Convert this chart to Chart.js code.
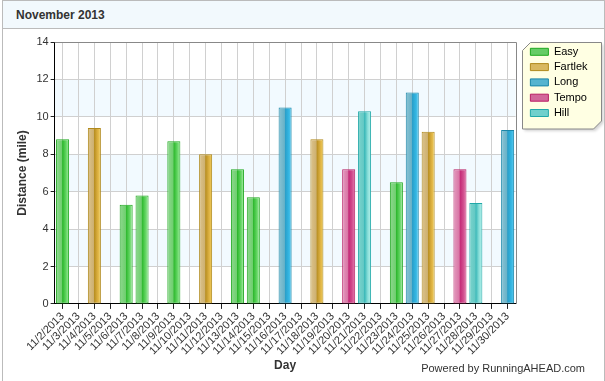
<!DOCTYPE html>
<html>
<head>
<meta charset="utf-8">
<script src="https://cdn.jsdelivr.net/npm/chart.js@4/dist/chart.umd.min.js"></script>
<style>
  html, body { margin: 0; padding: 0; background: #fff; }
  body { width: 605px; height: 381px; overflow: hidden; position: relative; font-family: "Liberation Sans", Arial, sans-serif; }
  #frame { position: absolute; left: 2px; top: 0; width: 601px; height: 380px; border: 1px solid #bbb; border-bottom: none; }
  #header { position: absolute; left: 0; top: 0; width: 601px; height: 27px; background: #f2f9fd; border-bottom: 1px solid #bbb; }
  #header span { position: absolute; left: 13px; top: 7px; font-weight: bold; font-size: 12px; color: #333; }
  #wrap { position: absolute; left: 0; top: 28px; width: 601px; height: 352px; }
  #powered { position: absolute; right: 20px; top: 362px; font-size: 11px; color: #333; }
</style>
</head>
<body>
<div id="frame">
  <div id="header"><span>November 2013</span></div>
  <div id="wrap"><canvas id="c"></canvas></div>
</div>
<div id="powered">Powered by RunningAHEAD.com</div>
<script>
const days = ['11/2/2013','11/3/2013','11/4/2013','11/5/2013','11/6/2013','11/7/2013','11/8/2013','11/9/2013','11/10/2013','11/11/2013','11/12/2013','11/13/2013','11/14/2013','11/15/2013','11/16/2013','11/17/2013','11/18/2013','11/19/2013','11/20/2013','11/21/2013','11/22/2013','11/23/2013','11/24/2013','11/25/2013','11/26/2013','11/27/2013','11/28/2013','11/29/2013','11/30/2013'];
const easy    = [8.8,null,null,null,5.3,5.8,null,8.7,null,null,null,7.2,5.7,null,null,null,null,null,null,null,null,6.5,null,null,null,null,null,null,null];
const fartlek = [null,null,9.4,null,null,null,null,null,null,8.0,null,null,null,null,null,null,8.8,null,null,null,null,null,null,9.2,null,null,null,null,null];
const long    = [null,null,null,null,null,null,null,null,null,null,null,null,null,null,10.5,null,null,null,null,null,null,null,11.3,null,null,null,null,null,9.3];
const tempo   = [null,null,null,null,null,null,null,null,null,null,null,null,null,null,null,null,null,null,7.2,null,null,null,null,null,null,7.2,null,null,null];
const hill    = [null,null,null,null,null,null,null,null,null,null,null,null,null,null,null,null,null,null,null,10.3,null,null,null,null,null,null,5.4,null,null];
const yTicks = [0,2,4,6,8,10,12,14];

const styles = {
  Easy:    { border: '#1fa81f', solid: '#66cc66', stops: ['#8fd88f','#6fcf6f','#2eb82e','#5fd45f','#a8eca8'] },
  Fartlek: { border: '#b0891c', solid: '#d8b860', stops: ['#dcc48e','#cdb070','#b88f22','#dcb040','#f2d060'] },
  Long:    { border: '#1a86a8', solid: '#55b4d0', stops: ['#8cc4d4','#68b2c8','#2a9ec8','#32b4e0','#5ccaf0'] },
  Tempo:   { border: '#b81e64', solid: '#d2679a', stops: ['#e49cc0','#d874a4','#c42876','#d04c8c','#e882b4'] },
  Hill:    { border: '#20a8a8', solid: '#70d0cc', stops: ['#7cd4cc','#62c8c4','#3ab8b8','#8ce0da','#b8f2ec'] }
};
const BARPCT = 0.82;

function gradFor(name) {
  const st = styles[name];
  return (ctx) => {
    if (ctx.type !== 'data') return st.solid;
    const chart = ctx.chart;
    const xs = chart.scales && chart.scales.x;
    if (!xs || !chart.chartArea) return st.solid;
    const cx = xs.getPixelForValue(ctx.dataIndex);
    const w = xs.width / days.length * BARPCT;
    const g = chart.ctx.createLinearGradient(cx - w/2, 0, cx + w/2, 0);
    g.addColorStop(0, st.stops[0]);
    g.addColorStop(0.45, st.stops[1]);
    g.addColorStop(0.5, st.stops[2]);
    g.addColorStop(0.75, st.stops[3]);
    g.addColorStop(1, st.stops[4]);
    return g;
  };
}
function ds(name, data) {
  return { label: name, data: data, backgroundColor: gradFor(name), borderColor: styles[name].border,
           borderWidth: 1, borderSkipped: false, barPercentage: BARPCT, categoryPercentage: 1.0 };
}

const bgPlugin = {
  id: 'bg',
  afterLayout(chart) {
    const lg = chart.legend;
    if (lg) {
      const shift = chart.chartArea.right + 10.5 - lg.left;
      lg.left += shift; lg.right += shift;
    }
  },
  beforeDraw(chart) {
    const { ctx, chartArea: a, scales: { y } } = chart;
    ctx.save();
    ctx.fillStyle = '#f2faff';
    [[2,4],[6,8],[10,12]].forEach(([lo, hi]) => {
      const t = y.getPixelForValue(hi), b = y.getPixelForValue(lo);
      ctx.fillRect(a.left, t, a.right - a.left, b - t);
    });
    const lg = chart.legend;
    if (lg) {
      const n = chart.data.datasets.length;
      const L = Math.round(lg.left) - 3.5, T = Math.round(a.top) + 0.5;
      const R = chart.width - 2.5, B = T + n * 15.3 + 10;
      const c = 8;
      ctx.beginPath();
      ctx.moveTo(L + c, T); ctx.lineTo(R, T); ctx.lineTo(R, B - c); ctx.lineTo(R - c, B);
      ctx.lineTo(L, B); ctx.lineTo(L, T + c); ctx.closePath();
      ctx.shadowColor = 'rgba(0,0,0,0.18)'; ctx.shadowBlur = 3; ctx.shadowOffsetX = 2; ctx.shadowOffsetY = 2;
      ctx.fillStyle = '#ffffe3';
      ctx.fill();
      ctx.shadowColor = 'transparent';
      ctx.strokeStyle = '#888';
      ctx.lineWidth = 1;
      ctx.stroke();
    }
    ctx.restore();
  },
  afterDraw(chart) {
    const { ctx, chartArea: a } = chart;
    ctx.save();
    ctx.strokeStyle = '#888';
    ctx.lineWidth = 1;
    ctx.beginPath();
    ctx.moveTo(a.left, Math.round(a.top) + 0.5);
    ctx.lineTo(Math.round(a.right) + 0.5, Math.round(a.top) + 0.5);
    ctx.lineTo(Math.round(a.right) + 0.5, a.bottom);
    ctx.stroke();
    ctx.restore();
  }
};

Chart.defaults.font.family = '"Liberation Sans", Arial, sans-serif';
Chart.defaults.color = '#333';

new Chart(document.getElementById('c'), {
  type: 'bar',
  data: {
    labels: days,
    datasets: [ds('Easy', easy), ds('Fartlek', fartlek), ds('Long', long), ds('Tempo', tempo), ds('Hill', hill)]
  },
  options: {
    responsive: true,
    maintainAspectRatio: false,
    animation: false,
    layout: { padding: { top: 13, left: 12, right: 17, bottom: 8 } },
    plugins: {
      tooltip: { enabled: false },
      legend: {
        position: 'right',
        align: 'start',
        labels: {
          boxWidth: 18, boxHeight: 7, padding: 4.3,
          font: { size: 11 }, color: '#333',
          generateLabels(chart) {
            return chart.data.datasets.map((d, i) => ({
              text: d.label, fillStyle: styles[d.label].solid, strokeStyle: styles[d.label].border,
              lineWidth: 1, hidden: false, datasetIndex: i
            }));
          }
        }
      }
    },
    scales: {
      x: {
        stacked: true,
        offset: true,
        grid: { offset: false, color: '#d0d0d0', tickColor: '#222', tickLength: 5, drawOnChartArea: true },
        border: { color: '#000', width: 1 },
        ticks: { autoSkip: false, minRotation: 45, maxRotation: 45, font: { size: 11 }, color: '#333', padding: 1 },
        title: { display: true, text: 'Day', font: { size: 12, weight: 'bold' }, color: '#333', padding: { top: 0, bottom: 0 } }
      },
      y: {
        stacked: true,
        min: 0, max: 14,
        afterBuildTicks(scale) { scale.ticks = yTicks.map(v => ({ value: v })); },
        grid: { color: '#d0d0d0', tickColor: '#222', tickLength: 4 },
        border: { color: '#000', width: 1 },
        ticks: { font: { size: 11 }, color: '#333', padding: 2 },
        title: { display: true, text: 'Distance (mile)', font: { size: 12, weight: 'bold' }, color: '#333', padding: { top: 0, bottom: 5 } }
      }
    }
  },
  plugins: [bgPlugin]
});
</script>
</body>
</html>
